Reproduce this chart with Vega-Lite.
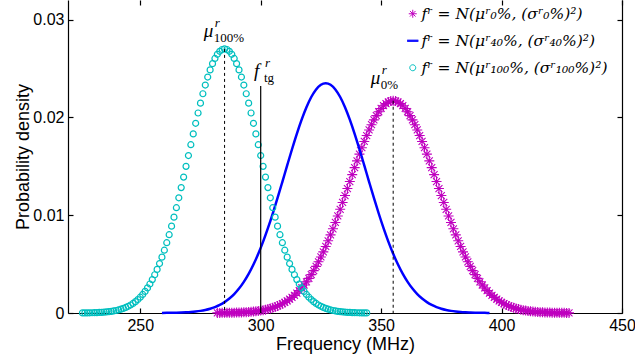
{
"$schema": "https://vega.github.io/schema/vega-lite/v6.json",
"width": 554, "height": 313,
"autosize": {"type": "none"},
"padding": {"left": 68, "top": 0, "right": 13, "bottom": 47},
"background": "white",
"config": {"view": {"stroke": null},
 "axis": {"grid": false, "domainColor": "black", "tickColor": "black", "labelColor": "black", "titleColor": "black", "domainWidth": 1.2, "tickWidth": 1.2, "labelFont": "Liberation Sans", "labelFontSize": 16, "titleFont": "Liberation Sans", "titleFontSize": 18, "titleFontWeight": "normal"}},
"datasets": {
"curves": [
{"f":282,"p":0.000008,"s":"0%"},{"f":283,"p":0.000010,"s":"0%"},{"f":284,"p":0.000013,"s":"0%"},{"f":285,"p":0.000015,"s":"0%"},{"f":286,"p":0.000019,"s":"0%"},{"f":287,"p":0.000023,"s":"0%"},{"f":288,"p":0.000028,"s":"0%"},{"f":289,"p":0.000035,"s":"0%"},{"f":290,"p":0.000042,"s":"0%"},{"f":291,"p":0.000051,"s":"0%"},{"f":292,"p":0.000061,"s":"0%"},{"f":293,"p":0.000074,"s":"0%"},{"f":294,"p":0.000088,"s":"0%"},{"f":295,"p":0.000106,"s":"0%"},{"f":296,"p":0.000126,"s":"0%"},{"f":297,"p":0.000150,"s":"0%"},{"f":298,"p":0.000177,"s":"0%"},{"f":299,"p":0.000210,"s":"0%"},{"f":300,"p":0.000247,"s":"0%"},{"f":301,"p":0.000290,"s":"0%"},{"f":302,"p":0.000340,"s":"0%"},{"f":303,"p":0.000397,"s":"0%"},{"f":304,"p":0.000463,"s":"0%"},{"f":305,"p":0.000537,"s":"0%"},{"f":306,"p":0.000622,"s":"0%"},{"f":307,"p":0.000718,"s":"0%"},{"f":308,"p":0.000827,"s":"0%"},{"f":309,"p":0.000949,"s":"0%"},{"f":310,"p":0.001085,"s":"0%"},{"f":311,"p":0.001238,"s":"0%"},{"f":312,"p":0.001408,"s":"0%"},{"f":313,"p":0.001597,"s":"0%"},{"f":314,"p":0.001805,"s":"0%"},{"f":315,"p":0.002035,"s":"0%"},{"f":316,"p":0.002287,"s":"0%"},{"f":317,"p":0.002563,"s":"0%"},{"f":318,"p":0.002864,"s":"0%"},{"f":319,"p":0.003190,"s":"0%"},{"f":320,"p":0.003544,"s":"0%"},{"f":321,"p":0.003925,"s":"0%"},{"f":322,"p":0.004333,"s":"0%"},{"f":323,"p":0.004771,"s":"0%"},{"f":324,"p":0.005237,"s":"0%"},{"f":325,"p":0.005731,"s":"0%"},{"f":326,"p":0.006254,"s":"0%"},{"f":327,"p":0.006804,"s":"0%"},{"f":328,"p":0.007381,"s":"0%"},{"f":329,"p":0.007983,"s":"0%"},{"f":330,"p":0.008609,"s":"0%"},{"f":331,"p":0.009256,"s":"0%"},{"f":332,"p":0.009922,"s":"0%"},{"f":333,"p":0.010605,"s":"0%"},{"f":334,"p":0.011302,"s":"0%"},{"f":335,"p":0.012008,"s":"0%"},{"f":336,"p":0.012721,"s":"0%"},{"f":337,"p":0.013437,"s":"0%"},{"f":338,"p":0.014151,"s":"0%"},{"f":339,"p":0.014859,"s":"0%"},{"f":340,"p":0.015556,"s":"0%"},{"f":341,"p":0.016238,"s":"0%"},{"f":342,"p":0.016900,"s":"0%"},{"f":343,"p":0.017537,"s":"0%"},{"f":344,"p":0.018144,"s":"0%"},{"f":345,"p":0.018716,"s":"0%"},{"f":346,"p":0.019250,"s":"0%"},{"f":347,"p":0.019740,"s":"0%"},{"f":348,"p":0.020183,"s":"0%"},{"f":349,"p":0.020575,"s":"0%"},{"f":350,"p":0.020912,"s":"0%"},{"f":351,"p":0.021192,"s":"0%"},{"f":352,"p":0.021413,"s":"0%"},{"f":353,"p":0.021572,"s":"0%"},{"f":354,"p":0.021668,"s":"0%"},{"f":355,"p":0.021700,"s":"0%"},
{"f":356,"p":0.021668,"s":"0%"},{"f":357,"p":0.021572,"s":"0%"},{"f":358,"p":0.021413,"s":"0%"},{"f":359,"p":0.021192,"s":"0%"},{"f":360,"p":0.020912,"s":"0%"},{"f":361,"p":0.020575,"s":"0%"},{"f":362,"p":0.020183,"s":"0%"},{"f":363,"p":0.019740,"s":"0%"},{"f":364,"p":0.019250,"s":"0%"},{"f":365,"p":0.018716,"s":"0%"},{"f":366,"p":0.018144,"s":"0%"},{"f":367,"p":0.017537,"s":"0%"},{"f":368,"p":0.016900,"s":"0%"},{"f":369,"p":0.016238,"s":"0%"},{"f":370,"p":0.015556,"s":"0%"},{"f":371,"p":0.014859,"s":"0%"},{"f":372,"p":0.014151,"s":"0%"},{"f":373,"p":0.013437,"s":"0%"},{"f":374,"p":0.012721,"s":"0%"},{"f":375,"p":0.012008,"s":"0%"},{"f":376,"p":0.011302,"s":"0%"},{"f":377,"p":0.010605,"s":"0%"},{"f":378,"p":0.009922,"s":"0%"},{"f":379,"p":0.009256,"s":"0%"},{"f":380,"p":0.008609,"s":"0%"},{"f":381,"p":0.007983,"s":"0%"},{"f":382,"p":0.007381,"s":"0%"},{"f":383,"p":0.006804,"s":"0%"},{"f":384,"p":0.006254,"s":"0%"},{"f":385,"p":0.005731,"s":"0%"},{"f":386,"p":0.005237,"s":"0%"},{"f":387,"p":0.004771,"s":"0%"},{"f":388,"p":0.004333,"s":"0%"},{"f":389,"p":0.003925,"s":"0%"},{"f":390,"p":0.003544,"s":"0%"},{"f":391,"p":0.003190,"s":"0%"},{"f":392,"p":0.002864,"s":"0%"},{"f":393,"p":0.002563,"s":"0%"},{"f":394,"p":0.002287,"s":"0%"},{"f":395,"p":0.002035,"s":"0%"},{"f":396,"p":0.001805,"s":"0%"},{"f":397,"p":0.001597,"s":"0%"},{"f":398,"p":0.001408,"s":"0%"},{"f":399,"p":0.001238,"s":"0%"},{"f":400,"p":0.001085,"s":"0%"},{"f":401,"p":0.000949,"s":"0%"},{"f":402,"p":0.000827,"s":"0%"},{"f":403,"p":0.000718,"s":"0%"},{"f":404,"p":0.000622,"s":"0%"},{"f":405,"p":0.000537,"s":"0%"},{"f":406,"p":0.000463,"s":"0%"},{"f":407,"p":0.000397,"s":"0%"},{"f":408,"p":0.000340,"s":"0%"},{"f":409,"p":0.000290,"s":"0%"},{"f":410,"p":0.000247,"s":"0%"},{"f":411,"p":0.000210,"s":"0%"},{"f":412,"p":0.000177,"s":"0%"},{"f":413,"p":0.000150,"s":"0%"},{"f":414,"p":0.000126,"s":"0%"},{"f":415,"p":0.000106,"s":"0%"},{"f":416,"p":0.000088,"s":"0%"},{"f":417,"p":0.000074,"s":"0%"},{"f":418,"p":0.000061,"s":"0%"},{"f":419,"p":0.000051,"s":"0%"},{"f":420,"p":0.000042,"s":"0%"},{"f":421,"p":0.000035,"s":"0%"},{"f":422,"p":0.000028,"s":"0%"},{"f":423,"p":0.000023,"s":"0%"},{"f":424,"p":0.000019,"s":"0%"},{"f":425,"p":0.000015,"s":"0%"},{"f":426,"p":0.000013,"s":"0%"},{"f":427,"p":0.000010,"s":"0%"},{"f":428,"p":0.000008,"s":"0%"},
{"f":259,"p":0.000008,"s":"40%"},{"f":261,"p":0.000013,"s":"40%"},{"f":263,"p":0.000020,"s":"40%"},{"f":265,"p":0.000030,"s":"40%"},{"f":267,"p":0.000046,"s":"40%"},{"f":269,"p":0.000070,"s":"40%"},{"f":271,"p":0.000103,"s":"40%"},{"f":273,"p":0.000151,"s":"40%"},{"f":275,"p":0.000218,"s":"40%"},{"f":277,"p":0.000311,"s":"40%"},{"f":279,"p":0.000436,"s":"40%"},{"f":281,"p":0.000604,"s":"40%"},{"f":283,"p":0.000825,"s":"40%"},{"f":285,"p":0.001111,"s":"40%"},{"f":287,"p":0.001475,"s":"40%"},{"f":289,"p":0.001932,"s":"40%"},{"f":291,"p":0.002496,"s":"40%"},{"f":293,"p":0.003180,"s":"40%"},{"f":295,"p":0.003996,"s":"40%"},{"f":297,"p":0.004953,"s":"40%"},{"f":299,"p":0.006053,"s":"40%"},{"f":301,"p":0.007297,"s":"40%"},{"f":303,"p":0.008675,"s":"40%"},{"f":305,"p":0.010172,"s":"40%"},{"f":307,"p":0.011763,"s":"40%"},{"f":309,"p":0.013416,"s":"40%"},{"f":311,"p":0.015091,"s":"40%"},{"f":313,"p":0.016742,"s":"40%"},{"f":315,"p":0.018318,"s":"40%"},{"f":317,"p":0.019767,"s":"40%"},{"f":319,"p":0.021037,"s":"40%"},{"f":321,"p":0.022081,"s":"40%"},{"f":323,"p":0.022858,"s":"40%"},{"f":325,"p":0.023338,"s":"40%"},{"f":327,"p":0.023500,"s":"40%"},{"f":329,"p":0.023338,"s":"40%"},{"f":331,"p":0.022858,"s":"40%"},{"f":333,"p":0.022081,"s":"40%"},{"f":335,"p":0.021037,"s":"40%"},{"f":337,"p":0.019767,"s":"40%"},{"f":339,"p":0.018318,"s":"40%"},{"f":341,"p":0.016742,"s":"40%"},{"f":343,"p":0.015091,"s":"40%"},{"f":345,"p":0.013416,"s":"40%"},{"f":347,"p":0.011763,"s":"40%"},{"f":349,"p":0.010172,"s":"40%"},{"f":351,"p":0.008675,"s":"40%"},{"f":353,"p":0.007297,"s":"40%"},{"f":355,"p":0.006053,"s":"40%"},{"f":357,"p":0.004953,"s":"40%"},{"f":359,"p":0.003996,"s":"40%"},{"f":361,"p":0.003180,"s":"40%"},{"f":363,"p":0.002496,"s":"40%"},{"f":365,"p":0.001932,"s":"40%"},{"f":367,"p":0.001475,"s":"40%"},{"f":369,"p":0.001111,"s":"40%"},{"f":371,"p":0.000825,"s":"40%"},{"f":373,"p":0.000604,"s":"40%"},{"f":375,"p":0.000436,"s":"40%"},{"f":377,"p":0.000311,"s":"40%"},{"f":379,"p":0.000218,"s":"40%"},{"f":381,"p":0.000151,"s":"40%"},{"f":383,"p":0.000103,"s":"40%"},{"f":385,"p":0.000070,"s":"40%"},{"f":387,"p":0.000046,"s":"40%"},{"f":389,"p":0.000030,"s":"40%"},{"f":391,"p":0.000020,"s":"40%"},{"f":393,"p":0.000013,"s":"40%"},{"f":395,"p":0.000008,"s":"40%"},
{"f":226,"p":0.000009,"s":"100%"},{"f":227,"p":0.000012,"s":"100%"},{"f":228,"p":0.000015,"s":"100%"},{"f":229,"p":0.000020,"s":"100%"},{"f":230,"p":0.000026,"s":"100%"},{"f":231,"p":0.000033,"s":"100%"},{"f":232,"p":0.000042,"s":"100%"},{"f":233,"p":0.000054,"s":"100%"},{"f":234,"p":0.000068,"s":"100%"},{"f":235,"p":0.000086,"s":"100%"},{"f":236,"p":0.000108,"s":"100%"},{"f":237,"p":0.000135,"s":"100%"},{"f":238,"p":0.000169,"s":"100%"},{"f":239,"p":0.000209,"s":"100%"},{"f":240,"p":0.000257,"s":"100%"},{"f":241,"p":0.000316,"s":"100%"},{"f":242,"p":0.000386,"s":"100%"},{"f":243,"p":0.000469,"s":"100%"},{"f":244,"p":0.000567,"s":"100%"},{"f":245,"p":0.000683,"s":"100%"},{"f":246,"p":0.000819,"s":"100%"},{"f":247,"p":0.000978,"s":"100%"},{"f":248,"p":0.001162,"s":"100%"},{"f":249,"p":0.001373,"s":"100%"},{"f":250,"p":0.001617,"s":"100%"},{"f":251,"p":0.001894,"s":"100%"},{"f":252,"p":0.002210,"s":"100%"},{"f":253,"p":0.002567,"s":"100%"},{"f":254,"p":0.002967,"s":"100%"},{"f":255,"p":0.003413,"s":"100%"},{"f":256,"p":0.003909,"s":"100%"},{"f":257,"p":0.004456,"s":"100%"},{"f":258,"p":0.005056,"s":"100%"},{"f":259,"p":0.005710,"s":"100%"},{"f":260,"p":0.006420,"s":"100%"},{"f":261,"p":0.007186,"s":"100%"},{"f":262,"p":0.008005,"s":"100%"},{"f":263,"p":0.008878,"s":"100%"},{"f":264,"p":0.009800,"s":"100%"},{"f":265,"p":0.010767,"s":"100%"},{"f":266,"p":0.011777,"s":"100%"},{"f":267,"p":0.012822,"s":"100%"},{"f":268,"p":0.013896,"s":"100%"},{"f":269,"p":0.014991,"s":"100%"},{"f":270,"p":0.016098,"s":"100%"},{"f":271,"p":0.017208,"s":"100%"},{"f":272,"p":0.018309,"s":"100%"},{"f":273,"p":0.019392,"s":"100%"},{"f":274,"p":0.020445,"s":"100%"},{"f":275,"p":0.021456,"s":"100%"},{"f":276,"p":0.022414,"s":"100%"},{"f":277,"p":0.023307,"s":"100%"},{"f":278,"p":0.024125,"s":"100%"},{"f":279,"p":0.024856,"s":"100%"},{"f":280,"p":0.025492,"s":"100%"},{"f":281,"p":0.026025,"s":"100%"},{"f":282,"p":0.026447,"s":"100%"},{"f":283,"p":0.026753,"s":"100%"},{"f":284,"p":0.026938,"s":"100%"},{"f":285,"p":0.027000,"s":"100%"},
{"f":286,"p":0.026938,"s":"100%"},{"f":287,"p":0.026753,"s":"100%"},{"f":288,"p":0.026447,"s":"100%"},{"f":289,"p":0.026025,"s":"100%"},{"f":290,"p":0.025492,"s":"100%"},{"f":291,"p":0.024856,"s":"100%"},{"f":292,"p":0.024125,"s":"100%"},{"f":293,"p":0.023307,"s":"100%"},{"f":294,"p":0.022414,"s":"100%"},{"f":295,"p":0.021456,"s":"100%"},{"f":296,"p":0.020445,"s":"100%"},{"f":297,"p":0.019392,"s":"100%"},{"f":298,"p":0.018309,"s":"100%"},{"f":299,"p":0.017208,"s":"100%"},{"f":300,"p":0.016098,"s":"100%"},{"f":301,"p":0.014991,"s":"100%"},{"f":302,"p":0.013896,"s":"100%"},{"f":303,"p":0.012822,"s":"100%"},{"f":304,"p":0.011777,"s":"100%"},{"f":305,"p":0.010767,"s":"100%"},{"f":306,"p":0.009800,"s":"100%"},{"f":307,"p":0.008878,"s":"100%"},{"f":308,"p":0.008005,"s":"100%"},{"f":309,"p":0.007186,"s":"100%"},{"f":310,"p":0.006420,"s":"100%"},{"f":311,"p":0.005710,"s":"100%"},{"f":312,"p":0.005056,"s":"100%"},{"f":313,"p":0.004456,"s":"100%"},{"f":314,"p":0.003909,"s":"100%"},{"f":315,"p":0.003413,"s":"100%"},{"f":316,"p":0.002967,"s":"100%"},{"f":317,"p":0.002567,"s":"100%"},{"f":318,"p":0.002210,"s":"100%"},{"f":319,"p":0.001894,"s":"100%"},{"f":320,"p":0.001617,"s":"100%"},{"f":321,"p":0.001373,"s":"100%"},{"f":322,"p":0.001162,"s":"100%"},{"f":323,"p":0.000978,"s":"100%"},{"f":324,"p":0.000819,"s":"100%"},{"f":325,"p":0.000683,"s":"100%"},{"f":326,"p":0.000567,"s":"100%"},{"f":327,"p":0.000469,"s":"100%"},{"f":328,"p":0.000386,"s":"100%"},{"f":329,"p":0.000316,"s":"100%"},{"f":330,"p":0.000257,"s":"100%"},{"f":331,"p":0.000209,"s":"100%"},{"f":332,"p":0.000169,"s":"100%"},{"f":333,"p":0.000135,"s":"100%"},{"f":334,"p":0.000108,"s":"100%"},{"f":335,"p":0.000086,"s":"100%"},{"f":336,"p":0.000068,"s":"100%"},{"f":337,"p":0.000054,"s":"100%"},{"f":338,"p":0.000042,"s":"100%"},{"f":339,"p":0.000033,"s":"100%"},{"f":340,"p":0.000026,"s":"100%"},{"f":341,"p":0.000020,"s":"100%"},{"f":342,"p":0.000015,"s":"100%"},{"f":343,"p":0.000012,"s":"100%"},{"f":344,"p":0.000009,"s":"100%"}
],
"vlines": [
{"f":285,"top":0.027,"kind":"mean"},{"f":355,"top":0.0217,"kind":"mean"},{"f":300,"top":0.0232,"kind":"target"}
],
"labels": [
{"f":276.4,"p":0.0282,"base":"μ","sup":"r","sub":"100%"},
{"f":297.2,"p":0.0241,"base":"f","sup":"r","sub":"tg"},
{"f":345.7,"p":0.0234,"base":"μ","sup":"r","sub":"0%"}
]
},
"layer": [
{"data": {"name": "curves"}, "transform": [{"filter": "datum.s === '0%'"}],
 "mark": {"type": "point", "filled": false, "strokeWidth": 1.1, "size": 100, "opacity": 1},
 "encoding": {
  "x": {"field": "f", "type": "quantitative", "scale": {"domain": [220, 450], "nice": false, "zero": false},
        "axis": {"orient": "bottom", "values": [250, 300, 350, 400, 450], "title": "Frequency (MHz)", "tickSize": -5, "labelPadding": 9, "titlePadding": 2, "labelFlush": false, "labelOverlap": false}},
  "y": {"field": "p", "type": "quantitative", "scale": {"domain": [0, 0.032], "nice": false, "zero": true},
        "axis": {"orient": "left", "values": [0, 0.01, 0.02, 0.03], "labelExpr": "datum.value === 0 ? '0' : format(datum.value, '.2f')", "title": "Probability density", "tickSize": -5, "labelPadding": 9, "titlePadding": 0}},
  "color": {"field": "s", "type": "nominal", "scale": {"domain": ["0%", "40%", "100%"], "range": ["#bf00bf", "#0000ff", "#00bfbf"]},
        "legend": {"title": null, "orient": "none", "legendX": 337, "legendY": 6, "padding": 0, "symbolSize": 64, "symbolStrokeWidth": 1, "labelFont": "DejaVu Serif", "labelFontStyle": "italic", "labelFontSize": 15.5, "labelColor": "black", "labelOffset": 1, "rowPadding": 10, "labelLimit": 400,
          "labelExpr": "datum.value === '0%' ? 'fʳ = N(μʳ₀%, (σʳ₀%)²)' : datum.value === '40%' ? 'fʳ = N(μʳ₄₀%, (σʳ₄₀%)²)' : 'fʳ = N(μʳ₁₀₀%, (σʳ₁₀₀%)²)'",
          "encode": {"symbols": {"update": {"stroke": {"signal": "datum.value === '0%' ? '#bf00bf' : datum.value === '40%' ? '#0000ff' : '#00bfbf'"}, "strokeWidth": {"signal": "datum.value === '40%' ? 1.5 : 1.1"}}}}}},
  "shape": {"field": "s", "type": "nominal", "scale": {"domain": ["0%", "40%", "100%"], "range": ["M0,-1L0,1M-1,0L1,0M-0.7,-0.7L0.7,0.7M-0.7,0.7L0.7,-0.7", "M-1.4,-0.15L1.4,-0.15M-1.4,0L1.4,0M-1.4,0.15L1.4,0.15", "M0.75,0A0.75,0.75,0,1,1,-0.75,0A0.75,0.75,0,1,1,0.75,0Z"]},
        "legend": {"title": null, "orient": "none", "legendX": 337, "legendY": 6, "padding": 0, "symbolSize": 64, "symbolStrokeWidth": 1, "labelFont": "DejaVu Serif", "labelFontStyle": "italic", "labelFontSize": 15.5, "labelColor": "black", "labelOffset": 1, "rowPadding": 10, "labelLimit": 400,
          "labelExpr": "datum.value === '0%' ? 'fʳ = N(μʳ₀%, (σʳ₀%)²)' : datum.value === '40%' ? 'fʳ = N(μʳ₄₀%, (σʳ₄₀%)²)' : 'fʳ = N(μʳ₁₀₀%, (σʳ₁₀₀%)²)'",
          "encode": {"symbols": {"update": {"stroke": {"signal": "datum.value === '0%' ? '#bf00bf' : datum.value === '40%' ? '#0000ff' : '#00bfbf'"}, "strokeWidth": {"signal": "datum.value === '40%' ? 1.5 : 1.1"}}}}}}
 }},
{"data": {"name": "curves"}, "transform": [{"filter": "datum.s === '40%'"}],
 "mark": {"type": "line", "color": "#0000ff", "strokeWidth": 2.5, "interpolate": "monotone"},
 "encoding": {
  "x": {"field": "f", "type": "quantitative", "scale": {"domain": [220, 450], "nice": false, "zero": false}, "axis": null},
  "y": {"field": "p", "type": "quantitative", "scale": {"domain": [0, 0.032], "nice": false, "zero": true}, "axis": null}
 }},
{"data": {"name": "curves"}, "transform": [{"filter": "datum.s === '100%'"}],
 "mark": {"type": "point", "filled": false, "strokeWidth": 1.2, "size": 64, "opacity": 1},
 "encoding": {
  "x": {"field": "f", "type": "quantitative", "scale": {"domain": [220, 450], "nice": false, "zero": false}, "axis": null},
  "y": {"field": "p", "type": "quantitative", "scale": {"domain": [0, 0.032], "nice": false, "zero": true}, "axis": null},
  "color": {"field": "s", "type": "nominal", "scale": {"domain": ["0%", "40%", "100%"], "range": ["#bf00bf", "#0000ff", "#00bfbf"]}},
  "shape": {"field": "s", "type": "nominal", "scale": {"domain": ["0%", "40%", "100%"], "range": ["M0,-1L0,1M-1,0L1,0M-0.7,-0.7L0.7,0.7M-0.7,0.7L0.7,-0.7", "M-1.4,-0.15L1.4,-0.15M-1.4,0L1.4,0M-1.4,0.15L1.4,0.15", "M0.75,0A0.75,0.75,0,1,1,-0.75,0A0.75,0.75,0,1,1,0.75,0Z"]}}
 }},
{"data": {"name": "vlines"}, "transform": [{"filter": "datum.kind === 'mean'"}],
 "mark": {"type": "rule", "color": "black", "strokeWidth": 1, "strokeDash": [3, 3]},
 "encoding": {
  "x": {"field": "f", "type": "quantitative", "scale": {"domain": [220, 450], "nice": false, "zero": false},
        "axis": {"orient": "top", "values": [250, 300, 350, 400, 450], "labels": false, "domain": false, "title": null, "tickSize": -5}},
  "y": {"field": "top", "type": "quantitative", "scale": {"domain": [0, 0.032], "nice": false, "zero": true},
        "axis": {"orient": "right", "values": [0, 0.01, 0.02, 0.03], "labels": false, "title": null, "tickSize": -5}},
  "y2": {"datum": 0}
 }},
{"data": {"name": "vlines"}, "transform": [{"filter": "datum.kind === 'target'"}],
 "mark": {"type": "rule", "color": "black", "strokeWidth": 1.2},
 "encoding": {
  "x": {"field": "f", "type": "quantitative", "scale": {"domain": [220, 450], "nice": false, "zero": false}, "axis": null},
  "y": {"field": "top", "type": "quantitative", "scale": {"domain": [0, 0.032], "nice": false, "zero": true}, "axis": null},
  "y2": {"datum": 0}
 }},
{"data": {"name": "labels"},
 "mark": {"type": "text", "align": "left", "baseline": "alphabetic", "font": "Liberation Serif", "fontStyle": "italic", "fontSize": 19, "color": "black"},
 "encoding": {
  "x": {"field": "f", "type": "quantitative", "scale": {"domain": [220, 450], "nice": false, "zero": false}, "axis": null},
  "y": {"field": "p", "type": "quantitative", "scale": {"domain": [0, 0.032], "nice": false, "zero": true}, "axis": null},
  "text": {"field": "base"}
 }},
{"data": {"name": "labels"},
 "mark": {"type": "text", "align": "left", "baseline": "alphabetic", "font": "Liberation Serif", "fontStyle": "italic", "fontSize": 13, "color": "black", "dx": 11, "dy": -10},
 "encoding": {
  "x": {"field": "f", "type": "quantitative", "scale": {"domain": [220, 450], "nice": false, "zero": false}, "axis": null},
  "y": {"field": "p", "type": "quantitative", "scale": {"domain": [0, 0.032], "nice": false, "zero": true}, "axis": null},
  "text": {"field": "sup"}
 }},
{"data": {"name": "labels"},
 "mark": {"type": "text", "align": "left", "baseline": "alphabetic", "font": "Liberation Serif", "fontSize": 13, "color": "black", "dx": 10, "dy": 5},
 "encoding": {
  "x": {"field": "f", "type": "quantitative", "scale": {"domain": [220, 450], "nice": false, "zero": false}, "axis": null},
  "y": {"field": "p", "type": "quantitative", "scale": {"domain": [0, 0.032], "nice": false, "zero": true}, "axis": null},
  "text": {"field": "sub"}
 }}
],
"resolve": {"axis": {"x": "independent", "y": "independent"}}
}
